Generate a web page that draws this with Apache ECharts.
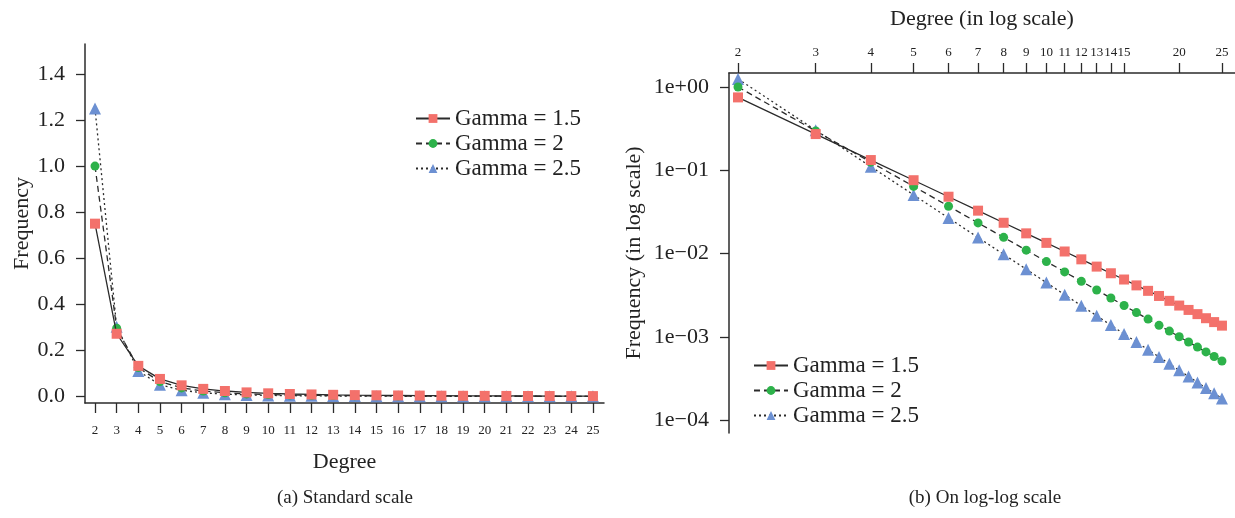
<!DOCTYPE html>
<html>
<head>
<meta charset="utf-8">
<script src="https://cdn.jsdelivr.net/npm/echarts@6/dist/echarts.min.js"></script>
<style>
html, body { margin: 0; padding: 0; background: #fff; }
#main { width: 1235px; height: 518px; }
</style>
</head>
<body>
<div id="main"></div>
<script>
var degrees = [2, 3, 4, 5, 6, 7, 8, 9, 10, 11, 12, 13, 14, 15, 16, 17, 18, 19, 20, 21, 22, 23, 24, 25];
var gamma15 = [0.75, 0.272, 0.1326, 0.0759, 0.0481, 0.0327, 0.0234, 0.01746, 0.01342, 0.01057, 0.00851, 0.00696,
    0.00579, 0.00487, 0.00414, 0.00356, 0.00309, 0.0027, 0.00237, 0.0021, 0.00187, 0.00167, 0.0015, 0.00136];
var gamma20 = [1.0, 0.2963, 0.125, 0.064, 0.037, 0.02332, 0.015625, 0.01097, 0.008, 0.00601, 0.00463, 0.00364,
    0.00292, 0.00237, 0.00195, 0.00163, 0.00137, 0.00117, 0.001, 0.000864, 0.000751, 0.000657, 0.000579, 0.000512];
var gamma25 = [1.25, 0.3024, 0.1105, 0.0506, 0.02673, 0.01558, 0.00977, 0.00647, 0.00447, 0.0032, 0.00236, 0.00179,
    0.00138, 0.00108, 0.000863, 0.000698, 0.000572, 0.000473, 0.000395, 0.000333, 0.000283, 0.000242, 0.000209, 0.000181];
var seriesNames = ['Gamma = 1.5', 'Gamma = 2', 'Gamma = 2.5'];
var freqTicks = [0, 0.2, 0.4, 0.6, 0.8, 1.0, 1.2, 1.4];
var logDegreeTicks = [2, 3, 4, 5, 6, 7, 8, 9, 10, 11, 12, 13, 14, 15, 20, 25];
var logFreqTicks = [0.0001, 0.001, 0.01, 0.1, 1];

var myChart = echarts.init(document.getElementById('main'));

var serif = 'Liberation Serif';
var ink = '#2b2b2b';
var colors = ['#F3716B', '#2DB24A', '#6C90D2'];
var symbols = ['rect', 'circle', 'triangle'];
var sizes = [10, 9, 12];
var dashes = ['solid', [6, 4], [2, 3]];
var allValues = [gamma15, gamma20, gamma25];

function pairs(vals) {
    return degrees.map(function (d, i) { return [d, vals[i]]; });
}

function expLabel(v) {
    var e = Math.round(Math.log10(v));
    var s = Math.abs(e) < 10 ? '0' + Math.abs(e) : '' + Math.abs(e);
    return '1e' + (e < 0 ? '\u2212' : '+') + s;
}

var series = [];
for (var g = 0; g < 2; g++) {
    for (var i = 0; i < 3; i++) {
        series.push({
            name: seriesNames[i],
            type: 'line',
            xAxisIndex: g,
            yAxisIndex: g,
            data: pairs(allValues[i]),
            symbol: symbols[i],
            symbolSize: sizes[i],
            showAllSymbol: true,
            itemStyle: { color: colors[i] },
            lineStyle: { color: ink, width: 1.3, type: dashes[i] },
            z: 3 - i,
            animation: false
        });
    }
}

var axisLine = { show: true, onZero: false, lineStyle: { color: ink, width: 1.5 } };
var tickStyle = { color: ink, width: 1.3 };
var nameStyle = { fontFamily: serif, fontSize: 22, color: '#222' };
var legendText = { fontFamily: serif, fontSize: 23, color: '#222' };

option = {
    backgroundColor: '#fff',
    title: [
        { text: '(a) Standard scale', left: 340, top: 484, textAlign: 'center',
          textStyle: { fontFamily: serif, fontSize: 19, fontWeight: 'normal', color: '#222' } },
        { text: '(b) On log-log scale', left: 980, top: 484, textAlign: 'center',
          textStyle: { fontFamily: serif, fontSize: 19, fontWeight: 'normal', color: '#222' } }
    ],
    legend: [
        { data: seriesNames, orient: 'vertical', left: 410, top: 102, itemWidth: 34, itemHeight: 11, itemGap: 2,
          textStyle: legendText },
        { data: seriesNames, orient: 'vertical', left: 748, top: 349, itemWidth: 34, itemHeight: 11, itemGap: 2,
          textStyle: legendText }
    ],
    grid: [
        { left: 85, top: 44, width: 519, height: 359 },
        { left: 729, top: 73, width: 506, height: 360 }
    ],
    xAxis: [
        {
            type: 'value', gridIndex: 0, min: 1.538, max: 25.51,
            name: 'Degree', nameLocation: 'middle', nameGap: 48, nameTextStyle: nameStyle,
            axisLine: axisLine,
            axisTick: { show: true, length: 10, customValues: degrees, lineStyle: tickStyle },
            axisLabel: { customValues: degrees, fontFamily: serif, fontSize: 13, color: '#222', margin: 21 },
            splitLine: { show: false }
        },
        {
            type: 'log', gridIndex: 1, position: 'top', min: 1.908, max: 26.76,
            name: 'Degree (in log scale)', nameLocation: 'middle', nameGap: 43, nameTextStyle: nameStyle,
            axisLine: axisLine,
            axisTick: { show: true, length: 10, customValues: logDegreeTicks, lineStyle: tickStyle },
            axisLabel: { customValues: logDegreeTicks, fontFamily: serif, fontSize: 13, color: '#222', margin: 14 },
            splitLine: { show: false }
        }
    ],
    yAxis: [
        {
            type: 'value', gridIndex: 0, min: -0.0286, max: 1.53,
            name: 'Frequency', nameLocation: 'middle', nameGap: 49, nameTextStyle: nameStyle,
            axisLine: axisLine,
            axisTick: { show: true, length: 9, customValues: freqTicks, lineStyle: tickStyle },
            axisLabel: { customValues: freqTicks, fontFamily: serif, fontSize: 22, color: '#222', margin: 20,
                formatter: function (v) { return v.toFixed(1); } },
            splitLine: { show: false }
        },
        {
            type: 'log', gridIndex: 1, min: 6.98e-5, max: 1.473,
            name: 'Frequency (in log scale)', nameLocation: 'middle', nameGap: 84, nameTextStyle: nameStyle,
            axisLine: axisLine,
            axisTick: { show: true, length: 9, customValues: logFreqTicks, lineStyle: tickStyle },
            axisLabel: { customValues: logFreqTicks, fontFamily: serif, fontSize: 22, color: '#222', margin: 20,
                formatter: expLabel },
            splitLine: { show: false }
        }
    ],
    series: series
};

myChart.setOption(option);
</script>
</body>
</html>
